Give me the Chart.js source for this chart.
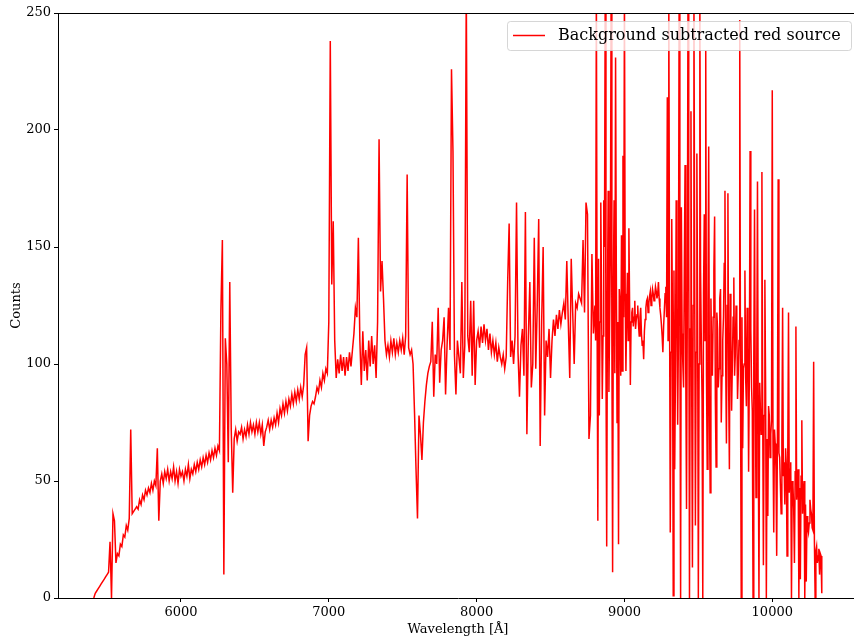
<!DOCTYPE html>
<html>
<head>
<meta charset="utf-8">
<script src="https://cdn.jsdelivr.net/npm/chart.js@4.4.0/dist/chart.umd.min.js"></script>
<style>
  html, body { margin: 0; padding: 0; background: #fff; overflow: hidden; }
  #wrap { width: 860px; height: 643px; }
</style>
</head>
<body>
<div id="wrap"><canvas id="spec"></canvas></div>
<script>
// blue part of the spectrum: 5410 - 8800 A, one value every 10 A
const blueStart = 5410;
const blueStep = 10;
const blueCounts = [
  0, 2, 3, 4, 5, 6, 7, 8, 9, 10,
  11, 24, 0, 36, 33, 15, 19, 18, 23, 22,
  27, 26, 31, 29, 34, 72, 36, 37, 38, 39,
  38, 42, 40, 44, 42, 46, 44, 47, 45, 49,
  46, 50, 48, 64, 33, 50, 53, 49, 54, 51,
  55, 50, 54, 51, 56, 50, 54, 49, 55, 52,
  54, 50, 55, 52, 57, 51, 55, 53, 57, 54,
  58, 55, 59, 56, 60, 57, 61, 58, 62, 59,
  63, 60, 64, 61, 65, 63, 123, 153, 10, 111,
  100, 58, 135, 72, 45, 68, 72, 67, 71, 70,
  73, 68, 72, 69, 74, 70, 75, 71, 74, 70,
  75, 71, 75, 70, 74, 65, 71, 73, 76, 72,
  76, 73, 77, 74, 79, 75, 81, 78, 83, 79,
  84, 80, 85, 82, 87, 83, 88, 84, 89, 85,
  90, 86, 91, 104, 107, 67, 78, 82, 84, 83,
  86, 90, 88, 93, 90, 96, 93, 98, 96, 118,
  238, 134, 161, 110, 94, 102, 96, 104, 97, 103,
  95, 103, 97, 105, 99, 106, 113, 124, 120, 154,
  110, 91, 114, 97, 106, 93, 110, 99, 112, 100,
  108, 94, 118, 196, 131, 144, 128, 110, 104, 108,
  103, 110, 105, 111, 104, 109, 105, 110, 106, 111,
  104, 112, 181, 107, 104, 106, 100, 79, 55, 34,
  78, 70, 59, 75, 84, 91, 96, 99, 101, 118,
  86, 104, 100, 124, 92, 106, 110, 120, 87, 108,
  124, 106, 226, 191, 104, 87, 110, 103, 96, 135,
  94, 108, 262, 112, 105, 127, 95, 127, 91, 110,
  114, 107, 116, 109, 117, 110, 115, 106, 113, 105,
  110, 104, 109, 101, 107, 103, 100, 104, 98, 103,
  135, 160, 103, 110, 100, 112, 169, 105, 86, 108,
  115, 95, 165, 70, 112, 135, 90, 100, 154, 98,
  125, 162, 65, 118, 150, 78, 110, 103, 115, 94,
  110, 119, 112, 121, 115, 123, 117, 122, 126, 119,
  144, 118, 94, 145, 122, 100, 126, 124, 130, 128,
  126, 153, 122, 169, 164, 68, 78, 147, 113, 125
];

// red part (telluric forest): 8805 - 10335 A, one value every 5 A
const redStart = 8805;
const redStep = 5;
const redCounts = [
  110, 262, 120, 33, 145, 78, 118, 169, 130, 85,
  112, 170, 150, 262, 100, 22, 128, 174, 88, 120,
  150, 262, 110, 11, 135, 170, 96, 231, 140, 75,
  118, 23, 132, 126, 95, 155, 97, 189, 120, 262,
  130, 97, 121, 139, 110, 158, 125, 91, 118, 122,
  124, 116, 120, 127, 115, 119, 121, 125, 117, 112,
  120, 124, 113, 108, 110, 102, 114, 119, 124, 127,
  128, 122, 126, 129, 131, 125, 128, 132, 130, 127,
  129, 133, 131, 128, 130, 135, 128, 124, 121, 117,
  112, 105, 116, 123, 130, 133, 120, 214, 110, 262,
  130, 28, 105, 162, 120, 1, 140, 55, 95, 170,
  125, 74, 110, 262, 130, 0, 167, 113, 100, 90,
  140, 185, 95, 38, 120, 262, 150, 0, 115, 208,
  90, 13, 125, 262, 140, 31, 105, 190, 120, 0,
  100, 262, 140, 110, 85, 0, 130, 164, 110, 234,
  95, 55, 125, 193, 80, 45, 128, 105, 95, 120,
  140, 163, 85, 56, 122, 115, 90, 98, 128, 132,
  75, 95, 110, 120, 143, 174, 100, 66, 125, 173,
  90, 55, 130, 112, 80, 100, 120, 137, 95, 104,
  125, 118, 85, 96, 110, 247, 95, 0, 120, 64,
  98, 100, 140, 94, 82, 124, 108, 54, 96, 191,
  115, 90, 80, 0, 100, 166, 88, 43, 95, 178,
  75, 0, 92, 80, 70, 182, 85, 14, 78, 136,
  90, 0, 68, 35, 82, 78, 60, 70, 76, 217,
  66, 28, 72, 66, 55, 18, 70, 179, 62, 60,
  48, 36, 66, 124, 52, 58, 40, 64, 57, 18,
  62, 122, 45, 55, 58, 0, 50, 48, 38, 15,
  54, 116, 42, 50, 55, 0, 47, 8, 52, 76,
  36, 45, 50, 0, 40, 7, 35, 30, 28, 32,
  42, 38, 36, 30, 29, 101, 25, 0, 20, 22,
  15, 18, 21, 10, 19, 18, 2
];

const xTicks = [6000, 7000, 8000, 9000, 10000];
const yTicks = [0, 50, 100, 150, 200, 250];

const points = blueCounts.map((c, i) => ({ x: blueStart + i * blueStep, y: c }))
  .concat(redCounts.map((c, i) => ({ x: redStart + i * redStep, y: c })));

const FONT = "'DejaVu Serif', 'Liberation Serif', serif";

// top/right spines + matplotlib style legend box
const frame = {
  id: 'frame',
  afterDraw(chart) {
    const { ctx, chartArea: a } = chart;
    ctx.save();
    ctx.strokeStyle = '#000';
    ctx.lineWidth = 1;
    ctx.beginPath();
    ctx.moveTo(a.left, a.top + 0.5);
    ctx.lineTo(a.right, a.top + 0.5);
    ctx.moveTo(a.right - 0.5, a.top);
    ctx.lineTo(a.right - 0.5, a.bottom);
    ctx.stroke();

    // legend
    const ds = chart.data.datasets[0];
    const bx = 507.5, by = 21.5, bw = 344, bh = 29;
    ctx.fillStyle = 'rgba(255,255,255,0.8)';
    ctx.strokeStyle = 'rgba(204,204,204,0.8)';
    ctx.beginPath();
    ctx.roundRect(bx, by, bw, bh, 3);
    ctx.fill();
    ctx.stroke();
    ctx.strokeStyle = ds.borderColor;
    ctx.lineWidth = 1.5;
    ctx.beginPath();
    ctx.moveTo(513, 35.5);
    ctx.lineTo(545, 35.5);
    ctx.stroke();
    ctx.fillStyle = '#000';
    ctx.font = '16px ' + FONT;
    ctx.textBaseline = 'middle';
    ctx.fillText(ds.label, 558, 36);
    ctx.restore();
  }
};

new Chart(document.getElementById('spec'), {
  type: 'line',
  data: {
    datasets: [{
      label: 'Background subtracted red source',
      data: points,
      borderColor: '#ff0000',
      borderWidth: 1.5,
      pointRadius: 0,
      tension: 0,
      fill: false
    }]
  },
  options: {
    responsive: true,
    maintainAspectRatio: false,
    animation: false,
    devicePixelRatio: 1,
    layout: { padding: { top: 13, right: 2, left: 0, bottom: 0 } },
    plugins: {
      legend: { display: false },
      tooltip: { enabled: false }
    },
    scales: {
      x: {
        type: 'linear',
        min: 5168,
        max: 10580,
        afterFit: s => { s.height = 45; },
        afterBuildTicks: s => { s.ticks = xTicks.map(v => ({ value: v })); },
        grid: { drawOnChartArea: false, drawTicks: true, tickLength: 4, color: '#000' },
        border: { display: true, color: '#000', width: 1 },
        ticks: {
          color: '#000', padding: 3, maxRotation: 0,
          font: { family: FONT, size: 13 },
          callback: v => String(v)
        },
        title: {
          display: true,
          text: 'Wavelength [Å]',
          color: '#000',
          font: { family: FONT, size: 13 },
          padding: { top: 0, bottom: 6 }
        }
      },
      y: {
        min: 0,
        max: 250,
        afterFit: s => { s.width = 58; },
        afterBuildTicks: s => { s.ticks = yTicks.map(v => ({ value: v })); },
        grid: { drawOnChartArea: false, drawTicks: true, tickLength: 4, color: '#000' },
        border: { display: true, color: '#000', width: 1 },
        ticks: {
          color: '#000', padding: 3,
          font: { family: FONT, size: 13 },
          callback: v => String(v)
        },
        title: {
          display: true,
          text: 'Counts',
          color: '#000',
          font: { family: FONT, size: 13 },
          padding: { top: 9, bottom: 0 }
        }
      }
    }
  },
  plugins: [frame]
});
</script>
</body>
</html>
